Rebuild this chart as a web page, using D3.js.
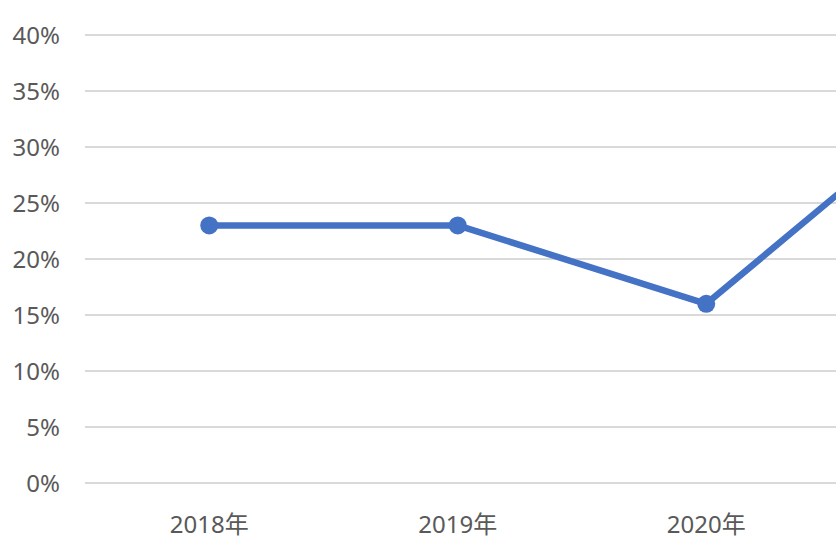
<!DOCTYPE html>
<html><head><meta charset="utf-8">
<script src="https://cdn.jsdelivr.net/npm/d3@7"></script>
<style>html,body{margin:0;padding:0;background:#fff;overflow:hidden}</style>
</head><body>
<script>
const categories = ["2018年","2019年","2020年","2021年"];
const values = [0.23, 0.23, 0.16, 0.345];
const yTicks = [0,0.05,0.10,0.15,0.20,0.25,0.30,0.35,0.40];

const W = 836, H = 556;
const svg = d3.select("body").append("svg").attr("width", W).attr("height", H);
const left = 85, bandW = 248.5;
const x = d3.scaleBand().domain(categories).range([left, left + bandW*categories.length]);
const y = d3.scaleLinear().domain([0,0.40]).range([483,35]);
const font = "'Noto Sans','Noto Sans CJK SC',sans-serif";
const cx = d => x(d) + x.bandwidth()/2;

svg.append("g").selectAll("line").data(yTicks).join("line")
  .attr("x1", left).attr("x2", W)
  .attr("y1", d=>y(d)).attr("y2", d=>y(d))
  .attr("stroke","#d9d9d9").attr("stroke-width",2);

svg.append("g").selectAll("text").data(yTicks).join("text")
  .attr("x", 60).attr("y", d=>y(d)).attr("dy","0.36em")
  .attr("text-anchor","end").attr("fill","#595959")
  .attr("font-family",font).attr("font-size",24)
  .text(d=>d3.format(".0%")(d));

// only categories whose label falls inside the visible window
svg.append("g").selectAll("text").data(categories.filter(c => cx(c) + 45 < W)).join("text")
  .attr("x", cx).attr("y", 524).attr("dy","0.36em")
  .attr("text-anchor","middle").attr("fill","#595959")
  .attr("font-family",font).attr("font-size",24)
  .text(d=>d);

const pts = categories.map((c,i)=>({c, v: values[i]}));
const line = d3.line().x(d=>cx(d.c)).y(d=>y(d.v));
svg.append("path").datum(pts).attr("d", line)
  .attr("fill","none").attr("stroke","#4472C4").attr("stroke-width",6.5)
  .attr("stroke-linejoin","round");
svg.append("g").selectAll("circle").data(pts).join("circle")
  .attr("cx", d=>cx(d.c)).attr("cy", d=>y(d.v)).attr("r",9)
  .attr("fill","#4472C4");
</script>
</body></html>
